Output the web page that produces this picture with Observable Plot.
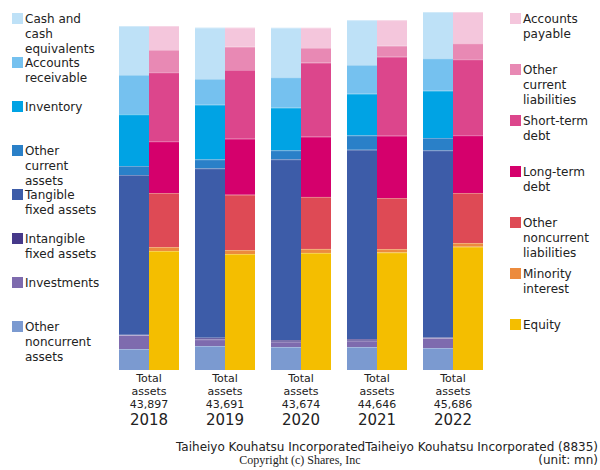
<!DOCTYPE html>
<html><head><meta charset="utf-8">
<script src="https://cdn.jsdelivr.net/npm/d3@7"></script>
<script src="https://cdn.jsdelivr.net/npm/@observablehq/plot@0.6"></script>
<style>
body{margin:0;width:600px;height:470px;position:relative;font-family:"DejaVu Sans",sans-serif;color:#222;background:#fff;overflow:hidden}
#chart{position:absolute;left:0;top:0}
.leg{position:absolute;font-size:12px;line-height:15px;width:76px}
.leg .sw{position:absolute;left:-13px;top:1.2px;width:11px;height:11px}
.foot{position:absolute;font-size:12px;line-height:15px;white-space:nowrap}
</style></head>
<body>
<div id="chart"></div>
<script>
// ---- data ----
const years = [2018, 2019, 2020, 2021, 2022];
const totals = [43897, 43691, 43674, 44646, 45686];

const assetCats = ["Cash and cash equivalents", "Accounts receivable", "Inventory", "Other current assets",
  "Tangible fixed assets", "Intangible fixed assets", "Investments", "Other noncurrent assets"];
const liabCats = ["Accounts payable", "Other current liabilities", "Short-term debt", "Long-term debt",
  "Other noncurrent liabilities", "Minority interest", "Equity"];

const assetColors = ["#bee1f7", "#75c1ef", "#00a3e4", "#2a80c8", "#3d5ca8", "#46398a", "#7e6bae", "#7b9ad0"];
const liabColors = ["#f4c6dc", "#e889b4", "#dc468c", "#d5006c", "#de4a55", "#ec8b3e", "#f4be00"];

// assets (unit: mn)
const cash = [6253, 6559, 6317, 5730, 5908];
const receivable = [5015, 3280, 3879, 3662, 4135];
const inventory = [6597, 6967, 5436, 5309, 6036];
const otherCurrentAssets = [1148, 1148, 1148, 1838, 1570];
const tangible = [20387, 21615, 23066, 24151, 23890];
const intangible = [30, 204, 217, 217, 64];
const investments = [1787, 855, 676, 804, 1276];
const otherNoncurrentAssets = [2680, 3063, 2935, 2935, 2807];

// liabilities + equity
const payable = [3063, 2437, 2578, 3267, 3994];
const otherCurrentLiab = [2846, 2973, 1876, 1404, 2042];
const shortDebt = [8805, 8767, 9443, 10081, 9698];
const longDebt = [6597, 7146, 7695, 7950, 7363];
const otherNoncurrentLiab = [6891, 7057, 6636, 6508, 6381];
const minority = [510, 510, 510, 421, 472];
const equity = [15185, 14801, 14936, 15015, 15736];

const assetSeries = [cash, receivable, inventory, otherCurrentAssets, tangible, intangible, investments, otherNoncurrentAssets];
const liabSeries = [payable, otherCurrentLiab, shortDebt, longDebt, otherNoncurrentLiab, minority, equity];

// ---- build table (bottom segment first) ----
const rows = [];
years.forEach((year, i) => {
  for (let k = assetCats.length - 1; k >= 0; k--) rows.push({year, side: "A", cat: assetCats[k], value: assetSeries[k][i]});
  for (let k = liabCats.length - 1; k >= 0; k--) rows.push({year, side: "L", cat: liabCats[k], value: liabSeries[k][i]});
});
const labelRows = years.map((year, i) => ({year, total: totals[i]}));
const fmt = d3.format(",");

const chart = Plot.plot({
  width: 600, height: 430,
  marginTop: 12, marginBottom: 60, marginLeft: 108, marginRight: 106,
  style: {fontFamily: "DejaVu Sans", fontSize: "11px", color: "#222", background: "transparent"},
  fx: {domain: years, paddingInner: 0.195, paddingOuter: 0.104, axis: null},
  x: {domain: ["A", "L"], padding: 0, axis: null},
  y: {domain: [0, d3.max(totals)], axis: null},
  color: {domain: [...assetCats, ...liabCats], range: [...assetColors, ...liabColors]},
  marks: [
    Plot.barY(rows, {fx: "year", x: "side", y: "value", fill: "cat"}),
    Plot.tickY(rows, Plot.stackY2({fx: "year", x: "side", y: "value", z: "cat",
      stroke: "white", strokeOpacity: 0.3, strokeWidth: 1})),
    Plot.text(labelRows, {fx: "year", frameAnchor: "bottom", lineAnchor: "top", dy: 2, lineHeight: 1.2,
      fontSize: 11, fill: "#222", text: d => `Total\nassets\n${fmt(d.total)}`}),
    Plot.text(labelRows, {fx: "year", frameAnchor: "bottom", lineAnchor: "middle", dy: 50,
      fontSize: 15, fill: "#222", text: d => String(d.year)})
  ]
});
document.getElementById("chart").appendChild(chart);

// ---- legends (evenly spaced columns) ----
function legend(cats, colors, textLeft, yFirst, yLast) {
  const step = (yLast - yFirst) / (cats.length - 1);
  cats.forEach((c, i) => {
    const div = document.createElement("div");
    div.className = "leg";
    div.style.left = textLeft + "px";
    div.style.top = (yFirst + i * step - 7) + "px";
    const sw = document.createElement("span");
    sw.className = "sw";
    sw.style.background = colors[i];
    div.appendChild(sw);
    div.appendChild(document.createTextNode(c));
    document.body.appendChild(div);
  });
}
legend(assetCats, assetColors, 25, 19.3, 326.5);
legend(liabCats, liabColors, 523, 19.3, 325);

// ---- footer ----
function foot(text, css) {
  const d = document.createElement("div");
  d.className = "foot";
  d.textContent = text;
  Object.assign(d.style, css);
  document.body.appendChild(d);
}
foot("Taiheiyo Kouhatsu IncorporatedTaiheiyo Kouhatsu Incorporated (8835)", {right: "2px", top: "439.5px"});
foot("Copyright (c) Shares, Inc", {left: "0", width: "600px", textAlign: "center", top: "452.5px", fontFamily: "'Liberation Serif', serif"});
foot("(unit: mn)", {right: "2px", top: "452.5px"});
</script>
</body></html>
